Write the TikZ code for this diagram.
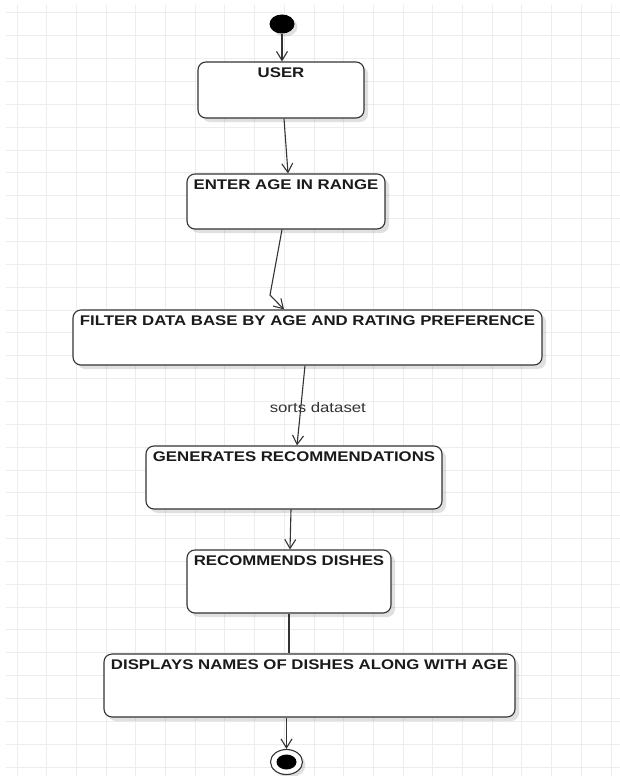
\documentclass[tikz,border=0pt]{standalone}
\usepackage{fontspec}
\setmainfont{Liberation Sans}
\newfontfamily\diafont[FakeStretch=1.2]{Liberation Sans}
\usetikzlibrary{arrows.meta,shadows,shapes.geometric,calc}
\definecolor{gridc}{HTML}{EDEDED}
\definecolor{linec}{HTML}{333333}
\definecolor{textc}{HTML}{1A1A1A}
\begin{document}
\begin{tikzpicture}[x=1pt,y=-1pt,
  statebox/.style={draw=linec, line width=1.1pt, rounded corners=8pt, fill=white,
    inner sep=0pt, drop shadow={shadow xshift=4pt,shadow yshift=-4pt,opacity=0.12,fill=black}},
  title/.style={anchor=north, inner sep=0pt, text=textc,
    font=\diafont\bfseries\fontsize{14}{16}\selectfont},
  conn/.style={draw=linec, line width=1.1pt},
  arr/.style={conn, -{Straight Barb[length=9pt,width=11pt,line width=1.1pt]}},
  lbl/.style={text=linec, inner sep=0pt, font=\diafont\fontsize{14}{16}\selectfont}
]
\useasboundingbox (0,0) rectangle (620,776);
\fill[white] (0,0) rectangle (620,776);
% grid
\foreach \i in {0,...,20} {
  \draw[gridc, line width=1pt] (17+\i*29.7,5) -- (17+\i*29.7,776);
}
\foreach \j in {0,...,33} {
  \draw[gridc, line width=1pt] (6,13+\j*22.85) -- (620,13+\j*22.85);
}
% start / end
\node[ellipse, fill=black, minimum width=25pt, minimum height=19pt, inner sep=0pt,
  drop shadow={shadow xshift=3pt,shadow yshift=-3pt,opacity=0.12,fill=black}] (start) at (282,24) {};
\node[ellipse, draw=linec, line width=1.1pt, fill=white, minimum width=32pt, minimum height=25pt, inner sep=0pt,
  drop shadow={shadow xshift=3pt,shadow yshift=-3pt,opacity=0.12,fill=black}] (end) at (286.5,762) {};
\node[ellipse, fill=black, minimum width=20pt, minimum height=15pt, inner sep=0pt] (endin) at (end.center) {};
% states
\node[statebox, minimum width=166pt, minimum height=56pt] (user) at (281,90) {};
\node[title] (userT) at ($(user.north)+(0,6.5)$) {USER};
\node[statebox, minimum width=198pt, minimum height=55pt] (enter) at (286,201.5) {};
\node[title] (enterT) at ($(enter.north)+(0,6.5)$) {ENTER AGE IN RANGE};
\node[statebox, minimum width=469pt, minimum height=55pt] (filter) at (307.5,337.5) {};
\node[title] (filterT) at ($(filter.north)+(0,6.5)$) {FILTER DATA BASE BY AGE AND RATING PREFERENCE};
\node[statebox, minimum width=296pt, minimum height=63pt] (gen) at (294,477.5) {};
\node[title] (genT) at ($(gen.north)+(0,6.5)$) {GENERATES RECOMMENDATIONS};
\node[statebox, minimum width=204pt, minimum height=63pt] (rec) at (289,581.5) {};
\node[title] (recT) at ($(rec.north)+(0,6.5)$) {RECOMMENDS DISHES};
\node[statebox, minimum width=411pt, minimum height=63pt] (disp) at (309.5,685.5) {};
\node[title] (dispT) at ($(disp.north)+(0,6.5)$) {DISPLAYS NAMES OF DISHES ALONG WITH AGE};
% connectors
\coordinate (bend1) at (270,295);
\draw[arr] (start.south) -- (start.south |- user.north);
\draw[arr] ($(user.south)+(3,0)$) -- ($(enter.north)+(2,0)$);
\draw[arr] ($(enter.south)+(-4,0)$) -- (bend1) -- ($(filter.north)+(-23.5,0)$);
\draw[arr] ($(filter.south)+(-2.5,0)$) -- node[lbl, pos=0.52, xshift=17pt] (lab) {sorts dataset} ($(gen.north)+(3,0)$);
\draw[arr] ($(gen.south)+(-3,0)$) -- ($(rec.north)+(1,0)$);
\draw[conn] (rec.south) -- (rec.south |- disp.north);
\draw[arr] (end.north |- disp.south) -- (end.north);
\end{tikzpicture}
\end{document}
